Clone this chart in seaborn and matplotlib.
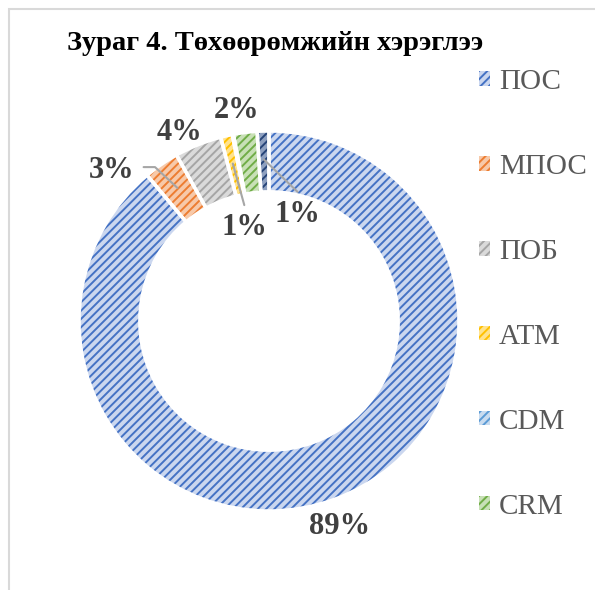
import numpy as np
import matplotlib
matplotlib.use('Agg')
import matplotlib.pyplot as plt
import seaborn as sns
from matplotlib.patches import Patch, Rectangle

# data (percent shares)
devices = ['ПОС', 'МПОС', 'ПОБ', 'АТМ', 'CDM', 'CRM', 'Бусад']
shares = [89, 3, 4, 1, 0.1, 2, 1]
base_colors = ['#4472C4', '#ED7D31', '#A5A5A5', '#FFC000', '#5B9BD5', '#70AD47', '#264478']
light_colors = ['#cbd7ef', '#f7c9a9', '#dadada', '#ffe38f', '#c9dcf0', '#c8e0b6', '#8ea0c0']

# label placement (data units, ring radius = 1)
label_pos = [(0.37, -1.08), (-0.83, 0.79), (-0.47, 0.99), (-0.13, 0.49), None, (-0.17, 1.11), (0.15, 0.56)]
leader = [False, True, False, True, False, False, True]

sns.set_theme(style='white')
plt.rcParams['font.family'] = ['Liberation Serif', 'DejaVu Serif']
plt.rcParams['hatch.linewidth'] = 1.4

fig = plt.figure(figsize=(5.95, 5.9), dpi=100)
ax = fig.add_axes([3 / 595, 3 / 590, 532 / 595, 532 / 590])

pal = sns.color_palette(base_colors)
wedges, _ = ax.pie(shares, colors=light_colors, startangle=90, counterclock=False,
                   radius=1, wedgeprops=dict(width=0.32, linewidth=0))
for w, c in zip(wedges, pal):
    w.set_hatch('////')
    w.set_edgecolor(c)
# white outlines to get the gaps between segments
ax.pie(shares, startangle=90, counterclock=False, radius=1,
       wedgeprops=dict(width=0.32, fill=False, edgecolor='white', linewidth=2.5))

total = sum(shares)
for w, v, pos, ld in zip(wedges, shares, label_pos, leader):
    if pos is None:
        continue
    txt = f'{round(v / total * 100)}%'
    ax.text(pos[0], pos[1], txt, ha='center', va='center', fontsize=22,
            fontweight='bold', color='#404040')
    if ld:
        ang = np.deg2rad((w.theta1 + w.theta2) / 2)
        px, py = 0.85 * np.cos(ang), 0.85 * np.sin(ang)
        if pos[1] > 0.7:
            xs = [pos[0] + 0.17, pos[0] + 0.23, px]
            ys = [pos[1] + 0.02, pos[1] + 0.02, py]
        else:
            xs = [pos[0], px]
            ys = [pos[1] + 0.12, py]
        ax.plot(xs, ys, color='#a6a6a6', lw=1.5, zorder=1)

ax.set_xlim(-1.4, 1.4)
ax.set_ylim(-1.4, 1.4)
ax.set_aspect('equal')
ax.axis('off')

fig.text(0.463, 0.927, 'Зураг 4. Төхөөрөмжийн хэрэглээ', ha='center', va='center',
         fontsize=20.5, fontweight='bold', color='black')

handles = [Patch(facecolor=light_colors[i], edgecolor=pal[i], hatch='////', linewidth=0)
           for i in range(6)]
fig.legend(handles, devices[:6], loc='upper left', bbox_to_anchor=(479 / 595, 1 - 69 / 590),
           frameon=False, fontsize=21, labelcolor='#595959', handlelength=0.38,
           handleheight=0.38, handletextpad=0.3, labelspacing=2.02, borderpad=0,
           borderaxespad=0)

fig.patches.append(Rectangle((9 / 595, -0.05), 1.1, 1 - 9 / 590 + 0.05, transform=fig.transFigure,
                             fill=False, edgecolor='#d9d9d9', linewidth=1.5))

fig.savefig('out.png', dpi=100)
